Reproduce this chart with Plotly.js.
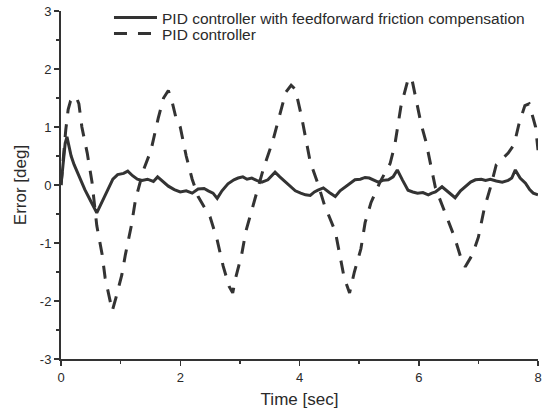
<!DOCTYPE html>
<html>
<head>
<meta charset="utf-8">
<script src="https://cdn.plot.ly/plotly-3.0.1.min.js"></script>
<style>html,body{margin:0;padding:0;background:#fff}#chart{width:550px;height:418px}</style>
</head>
<body>
<div id="chart"></div>
<script>
// PID controller with feedforward friction compensation (solid)
const timeFF = [0, 0.03, 0.07, 0.1, 0.13, 0.17, 0.22, 0.3, 0.4, 0.5, 0.6, 0.66, 0.75, 0.87, 0.95, 1.05, 1.12, 1.2, 1.28, 1.36, 1.45, 1.55, 1.62, 1.72, 1.8, 1.9, 2.0, 2.1, 2.2, 2.3, 2.4, 2.47, 2.55, 2.62, 2.7, 2.8, 2.9, 2.97, 3.05, 3.12, 3.2, 3.28, 3.37, 3.47, 3.53, 3.59, 3.67, 3.76, 3.85, 3.93, 4.02, 4.1, 4.18, 4.25, 4.31, 4.4, 4.5, 4.6, 4.68, 4.77, 4.85, 4.93, 5.02, 5.1, 5.17, 5.25, 5.32, 5.4, 5.49, 5.57, 5.64, 5.73, 5.82, 5.9, 5.98, 6.07, 6.16, 6.22, 6.28, 6.39, 6.5, 6.61, 6.7, 6.78, 6.87, 6.95, 7.05, 7.12, 7.2, 7.3, 7.4, 7.5, 7.56, 7.62, 7.7, 7.79, 7.86, 7.92, 8.0];
const errorFF = [0.0, 0.35, 0.72, 0.83, 0.7, 0.5, 0.35, 0.15, -0.08, -0.28, -0.48, -0.35, -0.15, 0.1, 0.18, 0.2, 0.24, 0.16, 0.1, 0.08, 0.1, 0.06, 0.14, 0.06, -0.02, -0.08, -0.12, -0.1, -0.14, -0.07, -0.06, -0.1, -0.14, -0.23, -0.1, 0.02, 0.09, 0.12, 0.14, 0.1, 0.12, 0.08, 0.05, 0.09, 0.15, 0.22, 0.14, 0.06, -0.03, -0.1, -0.14, -0.17, -0.18, -0.12, -0.09, -0.05, -0.13, -0.2, -0.1, -0.03, 0.04, 0.09, 0.1, 0.13, 0.12, 0.08, 0.05, 0.08, 0.09, 0.14, 0.26, 0.08, -0.09, -0.12, -0.14, -0.13, -0.17, -0.14, -0.12, -0.03, -0.12, -0.22, -0.1, -0.03, 0.05, 0.09, 0.1, 0.08, 0.1, 0.07, 0.05, 0.08, 0.12, 0.26, 0.12, 0.03, -0.08, -0.14, -0.17];

// PID controller (dashed)
const timePID = [0, 0.04, 0.08, 0.12, 0.16, 0.2, 0.25, 0.3, 0.35, 0.44, 0.52, 0.6, 0.69, 0.74, 0.83, 0.86, 0.92, 1.02, 1.08, 1.18, 1.25, 1.38, 1.51, 1.63, 1.72, 1.8, 1.86, 1.93, 2.0, 2.1, 2.2, 2.3, 2.5, 2.62, 2.72, 2.82, 2.88, 2.93, 3.03, 3.1, 3.25, 3.4, 3.55, 3.67, 3.77, 3.86, 3.93, 4.03, 4.1, 4.18, 4.3, 4.42, 4.6, 4.68, 4.75, 4.84, 4.92, 5.03, 5.1, 5.2, 5.35, 5.52, 5.6, 5.7, 5.82, 5.88, 5.95, 6.04, 6.12, 6.2, 6.28, 6.45, 6.6, 6.72, 6.78, 6.9, 7.0, 7.1, 7.2, 7.3, 7.5, 7.6, 7.68, 7.78, 7.85, 7.92, 7.96, 8.0];
const errorPID = [0.0, 0.5, 0.95, 1.3, 1.45, 1.5, 1.53, 1.4, 1.0, 0.55, 0.05, -0.7, -1.2, -1.6, -2.05, -2.17, -1.95, -1.55, -1.2, -0.7, -0.25, 0.25, 0.6, 1.15, 1.5, 1.63, 1.45, 1.15, 1.0, 0.5, 0.1, -0.2, -0.55, -0.95, -1.4, -1.75, -1.86, -1.6, -1.2, -0.8, -0.25, 0.3, 0.75, 1.2, 1.6, 1.72, 1.65, 1.2, 0.8, 0.4, 0.05, -0.35, -0.8, -1.2, -1.6, -1.86, -1.5, -1.1, -0.65, -0.3, 0.05, 0.37, 0.7, 1.35, 1.82, 1.85, 1.5, 1.05, 0.75, 0.37, -0.05, -0.5, -0.9, -1.3, -1.41, -1.2, -0.9, -0.4, -0.05, 0.35, 0.55, 0.7, 1.05, 1.37, 1.4, 1.15, 1.0, 0.6];

const yTickVals = [-3, -2, -1, 0, 1, 2, 3];
const yTickText = ['-3', '-2', '-1', '0', '1', '2', '3'];
const xTickVals = [0, 2, 4, 6, 8];
const xTickText = ['0', '2', '4', '6', '8'];

const ink = '#333333';
const fam = 'Liberation Sans, Arial, sans-serif';
const traces = [
  {x: timeFF, y: errorFF, type: 'scatter', mode: 'lines',
   name: 'PID controller with feedforward friction compensation',
   legend: 'legend',
   line: {color: ink, width: 3}},
  {x: timePID, y: errorPID, type: 'scatter', mode: 'lines',
   name: 'PID controller',
   legend: 'legend2',
   line: {color: ink, width: 3, dash: '13px,11px'}}
];

const axisCommon = {
  showline: true, linecolor: ink, linewidth: 2, mirror: false,
  showgrid: false, zeroline: false,
  ticks: 'outside', ticklen: 5, tickwidth: 1.5, tickcolor: ink,
  tickfont: {family: fam, size: 13, color: '#2a2a2a'}
};

const legendCommon = {
  x: 0.1006, xanchor: 'left', yanchor: 'middle',
  bgcolor: 'rgba(0,0,0,0)', borderwidth: 0,
  font: {family: fam, size: 15.5, color: '#2a2a2a'},
  itemwidth: 43
};

const layout = {
  width: 550, height: 418,
  margin: {l: 61, r: 12, t: 11, b: 59, autoexpand: false},
  paper_bgcolor: '#ffffff', plot_bgcolor: '#ffffff',
  font: {family: fam, color: '#2a2a2a'},
  showlegend: true,
  legend: Object.assign({}, legendCommon, {y: 0.98}),
  legend2: Object.assign({}, legendCommon, {y: 0.934}),
  xaxis: Object.assign({}, axisCommon, {
    range: [0, 8], tickmode: 'array', tickvals: xTickVals, ticktext: xTickText,
    minor: {dtick: 1, ticks: 'outside', ticklen: 3, tickwidth: 1.5, tickcolor: ink},
    title: {text: 'Time [sec]', standoff: 10, font: {family: fam, size: 17, color: '#2a2a2a'}}
  }),
  yaxis: Object.assign({}, axisCommon, {
    range: [-3, 3], tickmode: 'array', tickvals: yTickVals, ticktext: yTickText,
    minor: {dtick: 0.5, ticks: 'outside', ticklen: 3, tickwidth: 1.5, tickcolor: ink},
    title: {text: 'Error [deg]', standoff: 9, font: {family: fam, size: 17, color: '#2a2a2a'}}
  })
};

Plotly.newPlot('chart', traces, layout, {displayModeBar: false, staticPlot: true});
</script>
</body>
</html>
